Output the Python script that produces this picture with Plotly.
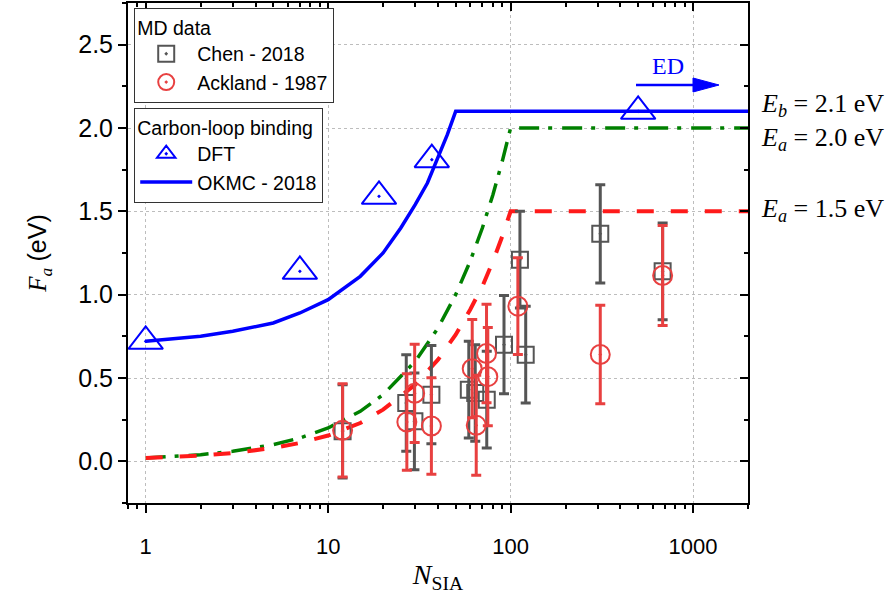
import plotly.graph_objects as go

# ---------------- data ----------------
# OKMC - 2018 curve (blue solid)
okmc_n = [1, 2, 3, 5, 7, 10, 15, 20, 25, 30, 35, 40, 45, 50, 2000]
okmc_f = [0.72, 0.75, 0.78, 0.83, 0.89, 0.97, 1.11, 1.25, 1.40, 1.54, 1.67, 1.82, 1.96, 2.10, 2.10]

# E_a = 2.0 eV curve (green dash-dot)
ea20_n = [1, 2, 3, 5, 7, 10, 15, 20, 30, 40, 50, 60, 70, 80, 90, 100, 2000]
ea20_f = [0.02, 0.04, 0.06, 0.10, 0.14, 0.20, 0.30, 0.40, 0.60, 0.80, 1.00, 1.20, 1.40, 1.60, 1.80, 2.00, 2.00]

# E_a = 1.5 eV curve (red dashed)
ea15_n = [1, 2, 3, 5, 7, 10, 15, 20, 30, 40, 50, 60, 70, 80, 90, 100, 2000]
ea15_f = [0.02, 0.035, 0.05, 0.08, 0.11, 0.155, 0.23, 0.31, 0.46, 0.61, 0.76, 0.91, 1.05, 1.20, 1.35, 1.50, 1.50]

# DFT points (blue triangles)
dft_n = [1, 7, 19, 37, 500]
dft_f = [0.72, 1.14, 1.59, 1.81, 2.10]

# Chen - 2018 MD data (gray squares)
chen_n = [12, 26.8, 29.7, 36.8, 59, 64, 74, 92, 112.5, 121, 310, 681]
chen_f = [0.18, 0.35, 0.24, 0.40, 0.43, 0.41, 0.37, 0.70, 1.21, 0.64, 1.365, 1.14]
chen_err = [0.28, 0.29, 0.29, 0.295, 0.29, 0.29, 0.29, 0.295, 0.29, 0.29, 0.295, 0.29]

# Ackland - 1987 MD data (red circles)
ack_n = [12, 27, 29.8, 36.8, 61.6, 64.8, 73.8, 75, 109.6, 310, 681]
ack_f = [0.186, 0.236, 0.408, 0.212, 0.556, 0.216, 0.647, 0.508, 0.931, 0.641, 1.115]
ack_err = [0.28, 0.29, 0.295, 0.29, 0.295, 0.30, 0.295, 0.295, 0.29, 0.295, 0.30]

# axis ticks
x_ticks = [1, 10, 100, 1000]
x_ticktext = ["1", "10", "100", "1000"]
x_minor = [0.8, 0.9] + [m * 10 ** k for k in range(0, 3) for m in range(2, 10)] + [2000]

# ---------------- styles ----------------
BLUE = "#0000ff"
GREEN = "#008000"
RED = "#ff1a1a"
ACK = "rgb(232,64,64)"
GRAY = "rgb(85,85,85)"
SANS = "Liberation Sans"
SERIF = "Liberation Serif"

X_RANGE = [-0.09691, 3.30103]
Y_RANGE = [-0.25, 2.75]

fig = go.Figure()

fig.add_trace(go.Scatter(x=ea20_n, y=ea20_f, mode="lines", showlegend=False,
                         line=dict(color=GREEN, width=3.5, dash="20px,9px,4px,10px")))
fig.add_trace(go.Scatter(x=ea15_n, y=ea15_f, mode="lines", showlegend=False,
                         line=dict(color=RED, width=4, dash="17px,17px")))

fig.add_trace(go.Scatter(
    x=chen_n, y=chen_f, mode="markers", showlegend=False,
    marker=dict(symbol="square-open-dot", size=16, color=GRAY, line=dict(width=2, color=GRAY)),
    error_y=dict(type="data", array=chen_err, visible=True, color=GRAY, thickness=3, width=5)))
fig.add_trace(go.Scatter(
    x=ack_n, y=ack_f, mode="markers", showlegend=False,
    marker=dict(symbol="circle-open-dot", size=19, color=ACK, line=dict(width=2, color=ACK)),
    error_y=dict(type="data", array=ack_err, visible=True, color=ACK, thickness=3, width=5)))

fig.add_trace(go.Scatter(x=okmc_n, y=okmc_f, mode="lines", showlegend=False,
                         line=dict(color=BLUE, width=3.5)))
fig.add_trace(go.Scatter(
    x=dft_n, y=dft_f, mode="markers", showlegend=False,
    marker=dict(symbol="triangle-up-open-dot", size=30, color=BLUE, line=dict(width=2, color=BLUE))))

# legend entries
fig.add_trace(go.Scatter(x=[None], y=[None], mode="markers", name="Chen - 2018", legend="legend",
                         marker=dict(symbol="square-open-dot", size=16, color=GRAY, line=dict(width=2, color=GRAY))))
fig.add_trace(go.Scatter(x=[None], y=[None], mode="markers", name="Ackland - 1987", legend="legend",
                         marker=dict(symbol="circle-open-dot", size=16, color=ACK, line=dict(width=2, color=ACK))))
fig.add_trace(go.Scatter(x=[None], y=[None], mode="markers", name="DFT", legend="legend2",
                         marker=dict(symbol="triangle-up-open-dot", size=16, color=BLUE, line=dict(width=2, color=BLUE))))
fig.add_trace(go.Scatter(x=[None], y=[None], mode="lines", name="OKMC - 2018", legend="legend2",
                         line=dict(color=BLUE, width=3.5)))

# dummy trace for mirrored (inside-tick) axes
fig.add_trace(go.Scatter(x=[None], y=[None], xaxis="x2", yaxis="y2", showlegend=False, hoverinfo="skip"))

axis_common = dict(showline=True, linecolor="black", linewidth=2, zeroline=False, automargin=False)

LEG_FONT = 19.5

fig.update_layout(
    width=885, height=604,
    margin=dict(l=128, r=137, t=3, b=101, autoexpand=False),
    paper_bgcolor="white", plot_bgcolor="white",
    font=dict(family=SANS, size=22, color="black"),
    xaxis=dict(type="log", range=X_RANGE, tickvals=x_ticks, ticktext=x_ticktext,
               ticks="outside", ticklen=8, tickwidth=2, tickcolor="black",
               ticklabelstandoff=15,
               tickfont=dict(family=SANS, size=22),
               showgrid=True, gridcolor="#bdbdbd", griddash="dot", gridwidth=1,
               minor=dict(tickvals=x_minor, ticks="outside", ticklen=4, tickwidth=1.5,
                          tickcolor="black", showgrid=False),
               title=dict(text="<i>N</i><sub>SIA</sub>", font=dict(family=SERIF, size=28), standoff=6),
               **axis_common),
    yaxis=dict(range=Y_RANGE, tick0=0, dtick=0.5, tickformat=".1f",
               ticks="outside", ticklen=8, tickwidth=2, tickcolor="black",
               tickfont=dict(family=SANS, size=25),
               showgrid=True, gridcolor="#bdbdbd", griddash="dot", gridwidth=1,
               minor=dict(dtick=0.25, ticks="outside", ticklen=4, tickwidth=1.5,
                          tickcolor="black", showgrid=False),
               title=dict(text="<i>F</i><sub><i>a</i></sub> <span style='font-family:Liberation Sans'>(eV)</span>",
                          font=dict(family=SERIF, size=25), standoff=24),
               **axis_common),
    xaxis2=dict(type="log", range=X_RANGE, overlaying="x", side="top", anchor="y",
                tickvals=x_ticks, showticklabels=False, ticks="inside", ticklen=8, tickwidth=2,
                tickcolor="black", showgrid=False,
                minor=dict(tickvals=x_minor, ticks="inside", ticklen=4, tickwidth=1.5,
                           tickcolor="black", showgrid=False),
                **axis_common),
    yaxis2=dict(range=Y_RANGE, overlaying="y", side="right", anchor="x", tick0=0, dtick=0.5,
                showticklabels=False, ticks="inside", ticklen=8, tickwidth=2, tickcolor="black",
                showgrid=False,
                minor=dict(dtick=0.25, ticks="inside", ticklen=4, tickwidth=1.5,
                           tickcolor="black", showgrid=False),
                **axis_common),
    legend=dict(title=dict(text="MD data", font=dict(family=SANS, size=LEG_FONT)),
                font=dict(family=SANS, size=LEG_FONT), x=0.0097, y=0.99, xanchor="left", yanchor="top",
                bgcolor="white", bordercolor="#333333", borderwidth=1.2, itemwidth=52,
                tracegroupgap=0),
    legend2=dict(title=dict(text="Carbon-loop binding", font=dict(family=SANS, size=LEG_FONT)),
                 font=dict(family=SANS, size=LEG_FONT), x=0.0097, y=0.79, xanchor="left", yanchor="top",
                 bgcolor="white", bordercolor="#333333", borderwidth=1.2, itemwidth=52,
                 tracegroupgap=0),
)

def px(xp):
    return (xp - 128) / 620.0

def py(yp):
    return (503 - yp) / 500.0

# right-side energy labels
for txt, ypix in [("<i>E</i><sub><i>b</i></sub> = 2.1 eV", 105),
                  ("<i>E</i><sub><i>a</i></sub> = 2.0 eV", 138.5),
                  ("<i>E</i><sub><i>a</i></sub> = 1.5 eV", 210)]:
    fig.add_annotation(text=txt, xref="paper", yref="paper", x=px(759), y=py(ypix),
                       xanchor="left", yanchor="middle", showarrow=False,
                       font=dict(family=SERIF, size=26, color="black"))

# ED label and arrow
fig.add_annotation(text="ED", xref="paper", yref="paper", x=px(667.5), y=py(66),
                   xanchor="center", yanchor="middle", showarrow=False,
                   font=dict(family=SERIF, size=24, color=BLUE))
fig.add_shape(type="line", xref="paper", yref="paper", x0=px(636), x1=px(696), y0=py(85), y1=py(85),
              line=dict(color=BLUE, width=2.5))
fig.add_shape(type="path", xref="paper", yref="paper",
              path=f"M {px(693)},{py(78)} L {px(719)},{py(85)} L {px(693)},{py(92)} Z",
              fillcolor=BLUE, line=dict(color=BLUE, width=1))

fig.write_html("out.html", config={"displayModeBar": False},
               post_script="document.body.style.margin='0';document.body.style.padding='0';")
